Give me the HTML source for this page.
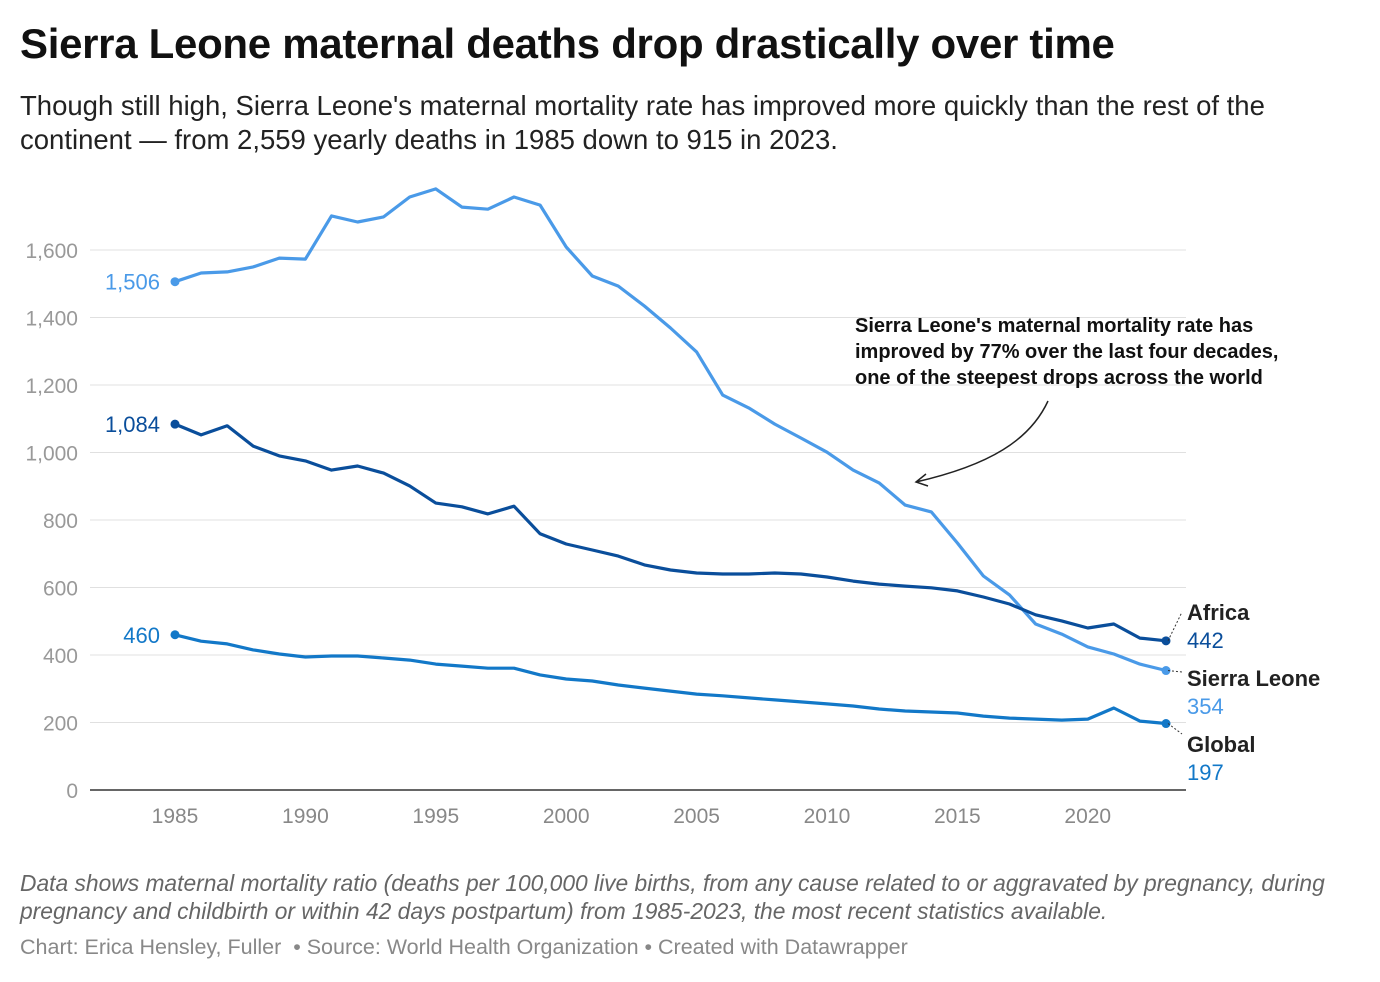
<!DOCTYPE html>
<html><head><meta charset="utf-8">
<style>
body{margin:0;width:1380px;height:982px;background:#fff;font-family:"Liberation Sans",sans-serif;position:relative;overflow:hidden}
.t{position:absolute;left:20px;top:20px;font-size:42px;font-weight:bold;color:#111;letter-spacing:-0.3px}
.s{position:absolute;left:20px;top:89px;font-size:27.5px;color:#222;line-height:34px;width:1290px}
.n{position:absolute;left:20px;top:869px;font-size:22.8px;font-style:italic;color:#666;line-height:28px;width:1345px}
.c{position:absolute;left:20px;top:935px;font-size:21.5px;color:#888}
svg{position:absolute;left:0;top:0}
</style></head><body>
<div class="t">Sierra Leone maternal deaths drop drastically over time</div>
<div class="s">Though still high, Sierra Leone's maternal mortality rate has improved more quickly than the rest of the continent — from 2,559 yearly deaths in 1985 down to 915 in 2023.</div>
<svg id="chart" width="1380" height="982"></svg>
<div class="n">Data shows maternal mortality ratio (deaths per 100,000 live births, from any cause related to or aggravated by pregnancy, during pregnancy and childbirth or within 42 days postpartum) from 1985-2023, the most recent statistics available.</div>
<div class="c">Chart: Erica Hensley, Fuller &nbsp;• Source: World Health Organization • Created with Datawrapper</div>
<script>
const years=[];for(let y=1985;y<=2023;y++)years.push(y);
const sierraLeone=[1506,1532,1535,1550,1576,1573,1701,1683,1698,1757,1781,1727,1721,1757,1733,1609,1523,1493,1434,1369,1298,1170,1132,1084,1043,1001,948,910,844,824,732,634,578,492,462,424,403,373,354];
const africa=[1084,1052,1079,1019,990,975,948,960,939,901,850,839,818,841,759,729,711,693,667,652,643,640,640,643,640,631,619,610,604,599,590,572,551,519,501,480,492,450,442];
const global=[460,441,433,415,403,394,397,397,391,385,373,367,361,361,341,329,323,311,302,293,284,279,273,267,261,255,249,240,234,231,228,219,213,210,207,210,243,204,197];
const yTicks=[0,200,400,600,800,1000,1200,1400,1600];
const xTicks=[1985,1990,1995,2000,2005,2010,2015,2020];
const NS='http://www.w3.org/2000/svg';
const svg=document.getElementById('chart');
const X=v=>175+(v-1985)*(1166-175)/38;
const Y=v=>790-v*540/1600;
function mk(tag,attrs,parent){const e=document.createElementNS(NS,tag);for(const k in attrs)e.setAttribute(k,attrs[k]);(parent||svg).appendChild(e);return e;}
function txt(s,attrs){const e=mk('text',attrs);e.textContent=s;return e;}
yTicks.forEach(v=>{
  if(v>0){const g=mk('line',{x1:90,x2:1186,y1:Y(v),y2:Y(v),stroke:'#e0e0e0','stroke-width':1});
  
  }
  const t=txt(v.toLocaleString('en-US'),{x:78,y:Y(v)+8,'text-anchor':'end','font-size':21,fill:'#999'});
  
  
});
const ax=mk('line',{x1:90,x2:1186,y1:790,y2:790,stroke:'#333','stroke-width':1.5});


xTicks.forEach(v=>{
  const t=txt(String(v),{x:X(v),y:823,'text-anchor':'middle','font-size':21,fill:'#888'});
  
  
});
function series(data,color,name){
  const d=data.map((v,i)=>(i?'L':'M')+X(years[i]).toFixed(1)+','+Y(v).toFixed(1)).join('');
  const p=mk('path',{d:d,fill:'none',stroke:color,'stroke-width':3.2,'stroke-linejoin':'round'});
  
  
  [0,data.length-1].forEach(i=>{
    const c=mk('circle',{cx:X(years[i]),cy:Y(data[i]),r:4.5,fill:color});
    
    
  });
  const l=txt(data[0].toLocaleString('en-US'),{x:160,y:Y(data[0])+8,'text-anchor':'end','font-size':22,fill:color});
  
  
}
series(sierraLeone,'#4a9ae8','sierra-leone');
series(africa,'#0a4e9b','africa');
series(global,'#1278c8','global');
function endLabel(name,val,color,y,slug){
  const n=txt(name,{x:1187,y:y,'font-size':22,'font-weight':'bold',fill:'#222'});
  
  
  const v=txt(String(val),{x:1187,y:y+28,'font-size':22,fill:color});
  
  
}
const last=years.length-1;
endLabel('Africa',africa[last],'#0a4e9b',620,'africa');
endLabel('Sierra Leone',sierraLeone[last],'#4a9ae8',686,'sierra-leone');
endLabel('Global',global[last],'#1278c8',752,'global');
[[Y(africa[last]),620],[Y(sierraLeone[last]),680],[Y(global[last]),742]].forEach(a=>{
  const l=mk('line',{x1:1168,y1:a[0],x2:1182,y2:a[1]-8,stroke:'#333','stroke-width':1,'stroke-dasharray':'2,2'});
  
  
});
['Sierra Leone\'s maternal mortality rate has','improved by 77% over the last four decades,','one of the steepest drops across the world'].forEach((s,i)=>{
  const t=txt(s,{x:855,y:332+i*26,'font-size':20,'font-weight':'bold',fill:'#111'});
  
  
});
const arr=mk('path',{d:'M1048,401 C1030,440 990,465 916,482 M926,474 L916,482 L928,486',fill:'none',stroke:'#222','stroke-width':1.5});


</script>
</body></html>
